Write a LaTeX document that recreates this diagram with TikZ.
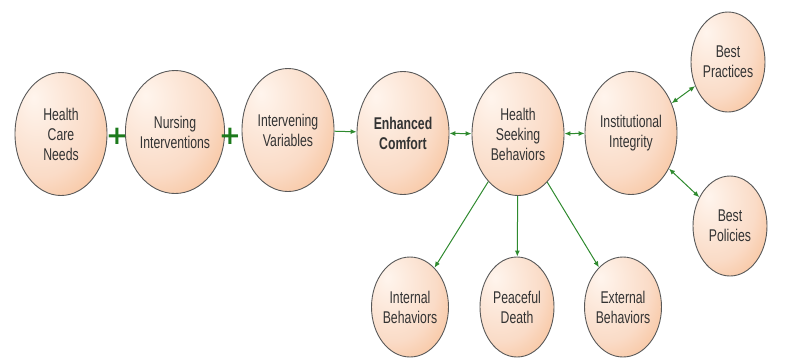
\documentclass[tikz,border=0pt]{standalone}
\usepackage{fontspec}
\setmainfont{Liberation Sans}[FakeStretch=0.72]
\newfontfamily\plusfont{DejaVu Sans}
\usetikzlibrary{shapes.geometric,arrows.meta}
\definecolor{arrgreen}{HTML}{2F8A2F}
\definecolor{plusgreen}{HTML}{1C7A1C}
\pgfdeclareradialshading{bubbleshade}{\pgfpoint{-15bp}{15bp}}{rgb(0bp)=(1,0.96,0.93); rgb(28bp)=(0.98,0.86,0.78); rgb(52bp)=(0.97,0.70,0.50); rgb(72bp)=(0.94,0.57,0.30); rgb(100bp)=(0.94,0.57,0.30)}
\begin{document}
\begin{tikzpicture}[x=1pt,y=-1pt,
	bubble/.style={ellipse,draw=black!65,line width=0.9pt,shade,shading=bubbleshade,inner sep=0pt,minimum width=92pt,minimum height=123pt,align=center,text=black!80,font=\fontsize{17}{20}\selectfont},
	small/.style={bubble,minimum width=74pt,minimum height=100pt},
	link/.style={draw=arrgreen,line width=1pt,-{Latex[length=6pt,width=5pt]}},
	both/.style={link,{Latex[length=6pt,width=5pt]}-{Latex[length=6pt,width=5pt]}},
	plus/.style={text=plusgreen,inner sep=0pt,font=\plusfont\fontsize{26}{26}\bfseries\selectfont}]
	\useasboundingbox (0,0) rectangle (789,360);
	\node[bubble] (needs) at (61,134) {Health\\Care\\Needs};
	\node[plus] (plusA) at (117,136) {+};
	\node[bubble] (nursing) at (175,132) {Nursing\\Interventions};
	\node[plus] (plusB) at (230,136) {+};
	\node[bubble] (interv) at (288,130) {Intervening\\Variables};
	\node[bubble,font=\fontsize{17}{20}\selectfont\bfseries] (comfort) at (403,133) {Enhanced\\Comfort};
	\node[bubble] (seeking) at (518,134) {Health\\Seeking\\Behaviors};
	\node[bubble] (integrity) at (631,133) {Institutional\\Integrity};
	\node[small] (practices) at (728,62) {Best\\Practices};
	\node[small] (policies) at (730,226) {Best\\Policies};
	\node[small] (internal) at (410,307) {Internal\\Behaviors};
	\node[small] (death) at (517,307) {Peaceful\\Death};
	\node[small] (external) at (623,307) {External\\Behaviors};

	\draw[link] (interv) -- (comfort);
	\draw[both] (comfort) -- (seeking);
	\draw[both] (seeking) -- (integrity);
	\draw[both] (integrity) -- (practices);
	\draw[both] (integrity) -- (policies);
	\draw[link] (seeking) -- (internal);
	\draw[link] (seeking) -- (death);
	\draw[link] (seeking) -- (external);
\end{tikzpicture}
\end{document}
